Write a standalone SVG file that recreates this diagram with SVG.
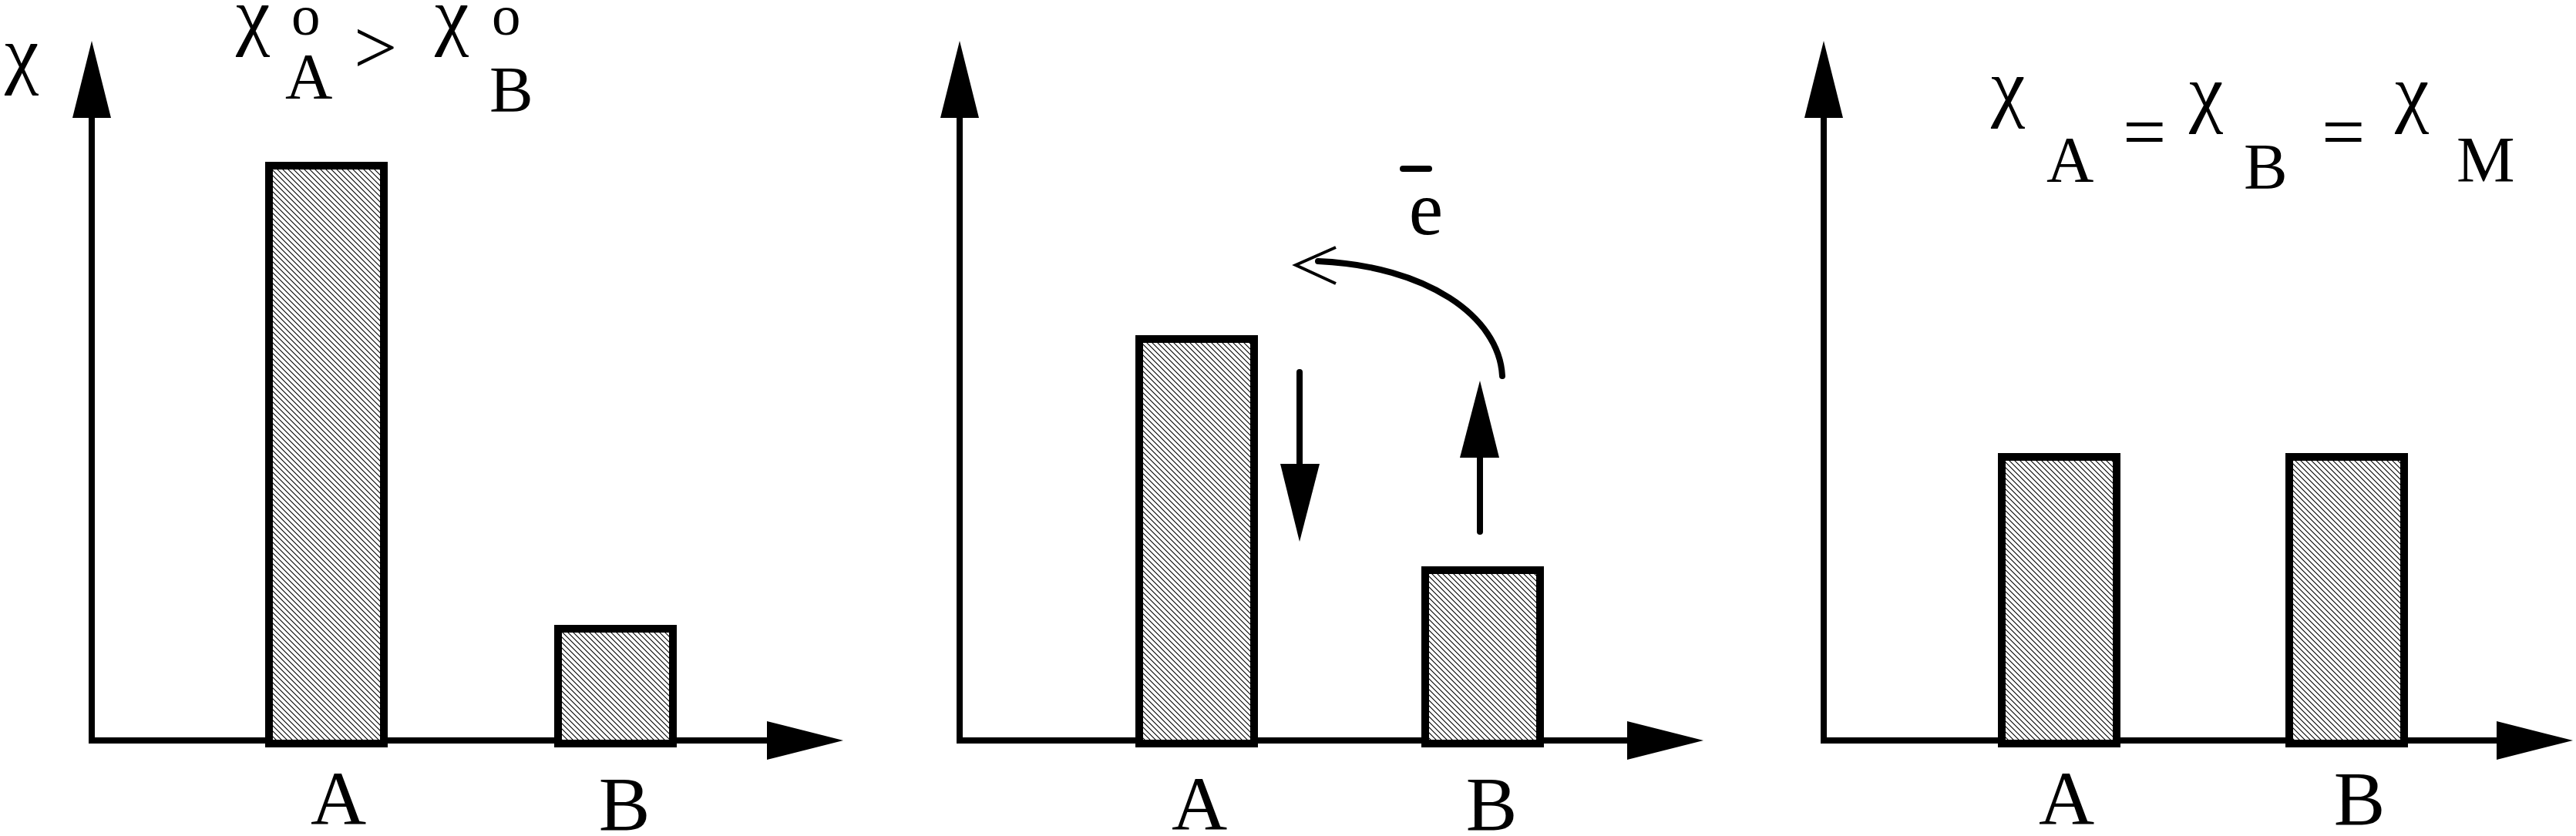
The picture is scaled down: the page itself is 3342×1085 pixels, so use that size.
<svg xmlns="http://www.w3.org/2000/svg" width="3342" height="1085" viewBox="0 0 3342 1085">
<style>
.t{font-family:"Liberation Serif","Times New Roman",serif;fill:#000;font-size:100px}
.sub{font-size:85px}
.sup{font-size:75px}
.ax{stroke:#000;stroke-width:8;fill:none}
.bar{fill:url(#hatch);stroke:#000;stroke-width:10}
.ln{stroke:#000;stroke-width:8;fill:none;stroke-linecap:round}
</style>
<defs>
<pattern id="hatch" patternUnits="userSpaceOnUse" width="7" height="7">
<rect width="7" height="7" fill="#fff"/>
<path d="M-1,-1 L8,8 M-1,6 L1,8 M6,-1 L8,1" stroke="#000" stroke-width="1.1"/>
</pattern>
</defs>
<rect width="3342" height="1085" fill="#fff"/>
<g id="connectors">
<path class="ax" d="M119,965 V150 M115,961 H1000"/>
<polygon points="94,153 144,153 119,53"/>
<polygon points="995,936 995,986 1094,961"/>
<path class="ax" d="M1245,965 V150 M1241,961 H2116"/>
<polygon points="1220,153 1270,153 1245,53"/>
<polygon points="2111,936 2111,986 2210,961"/>
<path class="ax" d="M2366,965 V150 M2362,961 H3244"/>
<polygon points="2341,153 2391,153 2366,53"/>
<polygon points="3239,936 3239,986 3338,961"/>
<line class="ln" x1="1686" y1="483" x2="1686" y2="604"/>
<polygon points="1661,602 1712,602 1686,703"/>
<line class="ln" x1="1920" y1="690" x2="1920" y2="592"/>
<polygon points="1894,594 1945,594 1920,494"/>
<path class="ln" d="M1949,488 C1945,410 1850,345 1710,339"/>
<path d="M1733,321 L1681,344 L1733,368" fill="none" stroke="#000" stroke-width="4"/>
</g>
<g id="panel1">
<rect id="p1-barA" class="bar" x="349" y="215" width="149" height="750"/>
<rect id="p1-barB" class="bar" x="724" y="816" width="149" height="149"/>
<text class="t" x="6" y="103">χ</text>
<text class="t"><tspan x="306" y="53">χ</tspan><tspan class="sup" x="378" y="45">o</tspan><tspan class="sub" x="370" y="128">A</tspan><tspan x="459" y="95">&gt;</tspan><tspan x="564" y="53">χ</tspan><tspan class="sup" x="638" y="45">o</tspan><tspan class="sub" x="635" y="145">B</tspan></text>
<text class="t" x="439" y="1070" text-anchor="middle">A</text>
<text class="t" x="810" y="1077" text-anchor="middle">B</text>
</g>
<g id="panel2">
<rect id="p2-barA" class="bar" x="1478" y="440" width="149" height="525"/>
<rect id="p2-barB" class="bar" x="1849" y="740" width="149" height="225"/>
<line class="ln" x1="1820" y1="219" x2="1854" y2="219"/>
<text class="t" x="1850" y="304" text-anchor="middle">e</text>
<text class="t" x="1556" y="1077" text-anchor="middle">A</text>
<text class="t" x="1935" y="1077" text-anchor="middle">B</text>
</g>
<g id="panel3">
<rect id="p3-barA" class="bar" x="2597" y="593" width="149" height="372"/>
<rect id="p3-barB" class="bar" x="2970" y="593" width="149" height="372"/>
<text class="t"><tspan x="2583" y="146">χ</tspan><tspan class="sub" x="2655" y="236">A</tspan><tspan x="2754" y="205">=</tspan><tspan x="2840" y="153">χ</tspan><tspan class="sub" x="2911" y="245">B</tspan><tspan x="3012" y="205">=</tspan><tspan x="3107" y="153">χ</tspan><tspan class="sub" x="3187" y="236">M</tspan></text>
<text class="t" x="2681" y="1070" text-anchor="middle">A</text>
<text class="t" x="3061" y="1070" text-anchor="middle">B</text>
</g>
</svg>
